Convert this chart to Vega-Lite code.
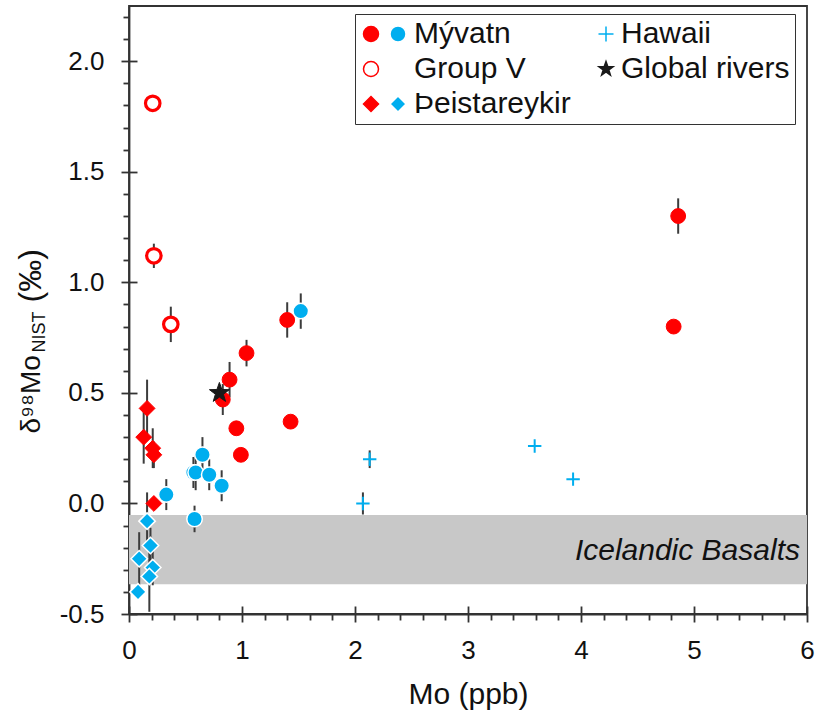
{
  "$schema": "https://vega.github.io/schema/vega-lite/v6.json",
  "width": 678,
  "height": 608,
  "autosize": {"type": "none"},
  "padding": {"left": 129, "top": 6, "right": 11, "bottom": 99},
  "background": "white",
  "config": {
    "font": "Liberation Sans",
    "view": {"stroke": "#333333", "strokeWidth": 1.8},
    "axis": {
      "grid": false,
      "domainColor": "#333333",
      "domainWidth": 1.8,
      "tickColor": "#333333",
      "tickWidth": 1.8,
      "labelColor": "#111111",
      "labelFont": "Liberation Sans",
      "titleColor": "#111111",
      "titleFont": "Liberation Sans",
      "titleFontWeight": "normal",
      "labelFlush": false,
      "labelOverlap": false
    },
    "legend": {"labelFont": "Liberation Sans", "labelColor": "#111111", "labelFontSize": 30, "labelLimit": 400}
  },
  "datasets": {
    "samples": [
      {"site": "Group V", "series": "a", "mo": 0.21, "d98": 1.81},
      {"site": "Group V", "series": "a", "mo": 0.22, "d98": 1.12, "err": 0.055},
      {"site": "Group V", "series": "a", "mo": 0.37, "d98": 0.81, "err": 0.08},
      {"site": "Mývatn", "series": "a", "mo": 1.40, "d98": 0.83, "err": 0.08},
      {"site": "Mývatn", "series": "a", "mo": 1.04, "d98": 0.68, "err": 0.06},
      {"site": "Mývatn", "series": "a", "mo": 0.89, "d98": 0.56, "err": 0.08},
      {"site": "Mývatn", "series": "a", "mo": 0.83, "d98": 0.47, "err": 0.07},
      {"site": "Mývatn", "series": "a", "mo": 1.43, "d98": 0.37},
      {"site": "Mývatn", "series": "a", "mo": 0.95, "d98": 0.34},
      {"site": "Mývatn", "series": "a", "mo": 0.99, "d98": 0.22},
      {"site": "Mývatn", "series": "a", "mo": 4.86, "d98": 1.30, "err": 0.08},
      {"site": "Mývatn", "series": "a", "mo": 4.82, "d98": 0.80},
      {"site": "Global rivers", "series": "a", "mo": 0.80, "d98": 0.50},
      {"site": "Þeistareykir", "series": "a", "mo": 0.16, "d98": 0.43, "err": 0.13},
      {"site": "Þeistareykir", "series": "a", "mo": 0.13, "d98": 0.30, "err": 0.12},
      {"site": "Þeistareykir", "series": "a", "mo": 0.21, "d98": 0.25, "err": 0.09},
      {"site": "Þeistareykir", "series": "a", "mo": 0.22, "d98": 0.22, "err": 0.06},
      {"site": "Þeistareykir", "series": "a", "mo": 0.22, "d98": 0.00},
      {"site": "Hawaii", "series": "a", "mo": 2.13, "d98": 0.20, "err": 0.04},
      {"site": "Hawaii", "series": "a", "mo": 2.07, "d98": 0.00, "err": 0.05},
      {"site": "Hawaii", "series": "a", "mo": 3.59, "d98": 0.26},
      {"site": "Hawaii", "series": "a", "mo": 3.93, "d98": 0.11},
      {"site": "Mývatn", "series": "b", "mo": 1.52, "d98": 0.87, "err": 0.08},
      {"site": "Mývatn", "series": "b", "mo": 0.65, "d98": 0.22, "err": 0.08},
      {"site": "Mývatn", "series": "b", "mo": 0.57, "d98": 0.14, "err": 0.07},
      {"site": "Mývatn", "series": "b", "mo": 0.59, "d98": 0.14, "err": 0.08},
      {"site": "Mývatn", "series": "b", "mo": 0.71, "d98": 0.13, "err": 0.07},
      {"site": "Mývatn", "series": "b", "mo": 0.82, "d98": 0.08, "err": 0.07},
      {"site": "Mývatn", "series": "b", "mo": 0.33, "d98": 0.04, "err": 0.07},
      {"site": "Mývatn", "series": "b", "mo": 0.58, "d98": -0.07, "err": 0.06},
      {"site": "Þeistareykir", "series": "b", "mo": 0.16, "d98": -0.08, "err": 0.13},
      {"site": "Þeistareykir", "series": "b", "mo": 0.09, "d98": -0.25, "err": 0.12},
      {"site": "Þeistareykir", "series": "b", "mo": 0.19, "d98": -0.19, "err": 0.08},
      {"site": "Þeistareykir", "series": "b", "mo": 0.21, "d98": -0.29, "err": 0.08},
      {"site": "Þeistareykir", "series": "b", "mo": 0.18, "d98": -0.33, "err": 0.16},
      {"site": "Þeistareykir", "series": "b", "mo": 0.08, "d98": -0.40}
    ],
    "basalts": [
      {"unit": "Icelandic Basalts", "lo": -0.365, "hi": -0.052}
    ]
  },
  "data": {"name": "samples"},
  "resolve": {
    "scale": {"fill": "independent", "stroke": "independent", "shape": "independent"},
    "axis": {"x": "independent", "y": "independent"}
  },
  "layer": [
    {
      "data": {"name": "basalts"},
      "mark": {"type": "rect", "color": "#C8C8C8"},
      "encoding": {
        "y": {"field": "lo", "type": "quantitative", "scale": {"domain": [-0.5, 2.25], "nice": false, "zero": false}, "axis": null},
        "y2": {"field": "hi"}
      }
    },
    {
      "data": {"name": "basalts"},
      "transform": [{"calculate": "(datum.lo + datum.hi) / 2", "as": "mid"}],
      "mark": {"type": "text", "fontStyle": "italic", "fontSize": 30, "align": "right", "baseline": "middle", "dx": -7, "dy": 1, "color": "#111111"},
      "encoding": {
        "text": {"field": "unit"},
        "x": {"datum": 6, "type": "quantitative", "scale": {"domain": [0, 6], "nice": false, "zero": false}, "axis": null},
        "y": {"field": "mid", "type": "quantitative", "scale": {"domain": [-0.5, 2.25], "nice": false, "zero": false}, "axis": null}
      }
    },
    {
      "transform": [{"filter": "isValid(datum.err)"}],
      "mark": {"type": "errorbar", "color": "#3c3c3c", "thickness": 2},
      "encoding": {
        "x": {
          "field": "mo", "type": "quantitative",
          "scale": {"domain": [0, 6], "nice": false, "zero": false},
          "axis": {"orient": "bottom", "values": [0.2, 0.4, 0.6, 0.8, 1.2, 1.4, 1.6, 1.8, 2.2, 2.4, 2.6, 2.8, 3.2, 3.4, 3.6, 3.8, 4.2, 4.4, 4.6, 4.8, 5.2, 5.4, 5.6, 5.8], "tickSize": 6, "labels": false, "domain": false, "title": null}
        },
        "y": {
          "field": "d98", "type": "quantitative",
          "scale": {"domain": [-0.5, 2.25], "nice": false, "zero": false},
          "axis": {"orient": "left", "values": [-0.4, -0.3, -0.2, -0.1, 0.1, 0.2, 0.3, 0.4, 0.6, 0.7, 0.8, 0.9, 1.1, 1.2, 1.3, 1.4, 1.6, 1.7, 1.8, 1.9, 2.1, 2.2], "tickSize": 6, "labels": false, "domain": false,
            "title": "(‰)", "titleFontSize": 32, "titleAngle": -90, "titleAlign": "left", "titleBaseline": "alphabetic", "titleX": -89, "titleY": 296}
        },
        "yError": {"field": "err"}
      }
    },
    {
      "encoding": {
        "x": {
          "field": "mo", "type": "quantitative",
          "scale": {"domain": [0, 6], "nice": false, "zero": false},
          "axis": {"orient": "bottom", "values": [0, 1, 2, 3, 4, 5, 6], "format": "d", "tickSize": 8, "labelPadding": 15, "labelFontSize": 26,
            "title": "Mo (ppb)", "titleFontSize": 30, "titleY": 89, "titleBaseline": "alphabetic"}
        },
        "y": {
          "field": "d98", "type": "quantitative",
          "scale": {"domain": [-0.5, 2.25], "nice": false, "zero": false},
          "axis": {"orient": "left", "values": [-0.5, 0, 0.5, 1, 1.5, 2], "tickSize": 8, "labelPadding": 17, "labelFontSize": 26,
            "labelExpr": "datum.value < 0 ? '-' + format(-datum.value, '.1f') : format(datum.value, '.1f')",
            "title": "δ⁹⁸Mo", "titleFontSize": 28, "titleAngle": -90, "titleAlign": "left", "titleBaseline": "alphabetic", "titleX": -90, "titleY": 427}
        },
        "fill": {
          "field": "site", "type": "nominal",
          "scale": {"domain": ["Mývatn", "Group V", "Þeistareykir", "Hawaii", "Global rivers"], "range": ["#FF0000", "#FFFFFF", "#FF0000", "#00AEEF", "#1A1A1A"]},
          "legend": {"orient": "none", "legendX": 226, "legendY": 8, "title": null, "columns": 2, "columnPadding": 209, "rowPadding": 5, "padding": 5, "strokeColor": "#333333", "symbolSize": 225, "symbolOffset": -4, "labelOffset": 0, "labelFontSize": 30, "labelLimit": 400,
            "labelExpr": "datum.label === 'Hawaii' || datum.label === 'Global rivers' ? datum.label : ' '"}
        },
        "stroke": {
          "field": "site", "type": "nominal",
          "scale": {"domain": ["Mývatn", "Group V", "Þeistareykir", "Hawaii", "Global rivers"], "range": ["#FF0000", "#FF0000", "#FF0000", "#00AEEF", "#1A1A1A"]},
          "legend": {"orient": "none", "legendX": 226, "legendY": 8, "title": null, "columns": 2, "columnPadding": 209, "rowPadding": 5, "padding": 5, "strokeColor": "#333333", "symbolSize": 225, "symbolOffset": -4, "labelOffset": 0, "labelFontSize": 30, "labelLimit": 400,
            "labelExpr": "datum.label === 'Hawaii' || datum.label === 'Global rivers' ? datum.label : ' '"}
        },
        "shape": {
          "field": "site", "type": "nominal",
          "scale": {"domain": ["Mývatn", "Group V", "Þeistareykir", "Hawaii", "Global rivers"], "range": ["circle", "circle", "diamond", "M-1,0H1M0,-1V1", "M0,-1L0.235,-0.324L0.951,-0.309L0.38,0.124L0.588,0.809L0,0.4L-0.588,0.809L-0.38,0.124L-0.951,-0.309L-0.235,-0.324Z"]},
          "legend": {"orient": "none", "legendX": 226, "legendY": 8, "title": null, "columns": 2, "columnPadding": 209, "rowPadding": 5, "padding": 5, "strokeColor": "#333333", "symbolSize": 225, "symbolOffset": -4, "labelOffset": 0, "labelFontSize": 30, "labelLimit": 400,
            "labelExpr": "datum.label === 'Hawaii' || datum.label === 'Global rivers' ? datum.label : ' '"}
        }
      },
      "layer": [
        {
          "transform": [{"filter": "datum.site === 'Group V'"}],
          "mark": {"type": "point", "size": 210, "strokeWidth": 3.2, "opacity": 1}
        },
        {
          "transform": [{"filter": "datum.site === 'Mývatn' && datum.series === 'a'"}],
          "mark": {"type": "point", "size": 220, "strokeWidth": 1, "opacity": 1}
        },
        {
          "transform": [{"filter": "datum.site === 'Þeistareykir' && datum.series === 'a'"}],
          "mark": {"type": "point", "size": 250, "strokeWidth": 1, "opacity": 1}
        },
        {
          "transform": [{"filter": "datum.site === 'Hawaii'"}],
          "mark": {"type": "point", "size": 180, "strokeWidth": 2, "opacity": 1}
        },
        {
          "transform": [{"filter": "datum.site === 'Global rivers'"}],
          "mark": {"type": "point", "size": 440, "strokeWidth": 1, "opacity": 1}
        }
      ]
    },
    {
      "encoding": {
        "x": {
          "field": "mo", "type": "quantitative",
          "scale": {"domain": [0, 6], "nice": false, "zero": false},
          "axis": {"orient": "bottom", "values": [0, 1, 2, 3, 4, 5, 6], "tickSize": -8, "labels": false, "domain": false, "title": null}
        },
        "y": {
          "field": "d98", "type": "quantitative",
          "scale": {"domain": [-0.5, 2.25], "nice": false, "zero": false},
          "axis": {"orient": "left", "values": [-0.5, 0, 0.5, 1, 1.5, 2], "tickSize": -8, "labels": false, "domain": false,
            "title": "NIST", "titleFontSize": 18, "titleAngle": -90, "titleAlign": "left", "titleBaseline": "alphabetic", "titleX": -85, "titleY": 346}
        },
        "fill": {
          "field": "site", "type": "nominal",
          "scale": {"domain": ["Mývatn", "Group V", "Þeistareykir"], "range": ["#00AEEF", "transparent", "#00AEEF"]},
          "legend": {"orient": "none", "legendX": 254, "legendY": 13, "title": null, "padding": 0, "rowPadding": 5, "symbolSize": 256, "symbolOffset": 0, "labelOffset": 1, "labelFontSize": 30}
        },
        "stroke": {
          "field": "site", "type": "nominal",
          "scale": {"domain": ["Mývatn", "Group V", "Þeistareykir"], "range": ["#FFFFFF", "transparent", "#FFFFFF"]},
          "legend": {"orient": "none", "legendX": 254, "legendY": 13, "title": null, "padding": 0, "rowPadding": 5, "symbolSize": 256, "symbolOffset": 0, "labelOffset": 1, "labelFontSize": 30}
        },
        "shape": {
          "field": "site", "type": "nominal",
          "scale": {"domain": ["Mývatn", "Group V", "Þeistareykir"], "range": ["circle", "circle", "diamond"]},
          "legend": {"orient": "none", "legendX": 254, "legendY": 13, "title": null, "padding": 0, "rowPadding": 5, "symbolSize": 256, "symbolOffset": 0, "labelOffset": 1, "labelFontSize": 30}
        }
      },
      "layer": [
        {
          "transform": [{"filter": "datum.site === 'Mývatn' && datum.series === 'b'"}],
          "mark": {"type": "point", "size": 240, "strokeWidth": 1.5, "opacity": 1}
        },
        {
          "transform": [{"filter": "datum.site === 'Þeistareykir' && datum.series === 'b'"}],
          "mark": {"type": "point", "size": 270, "strokeWidth": 1.5, "opacity": 1}
        }
      ]
    }
  ]
}
